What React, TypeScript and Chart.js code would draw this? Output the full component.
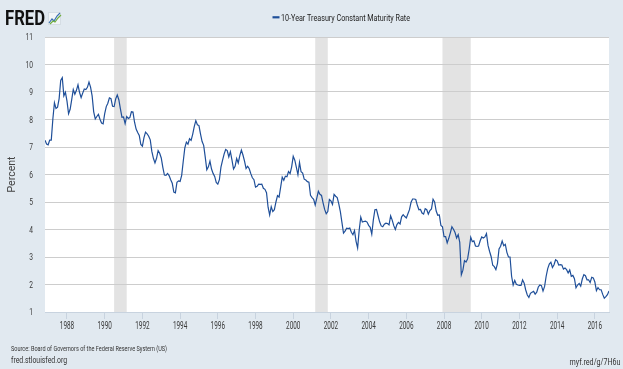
import React, { useEffect, useRef } from "react";
import { Chart, registerables } from "chart.js";

Chart.register(...registerables);

// ---------------- DATA ----------------
const seriesLabel = "10-Year Treasury Constant Maturity Rate";
const firstMonth = "1986-11"; // first monthly observation
// Monthly 10-year treasury rate (percent), Nov 1986 .. Oct 2016
const monthlyRates: number[] = [
  7.25, 7.11, // 1986
  7.08, 7.25, 7.25, 8.02, 8.61, 8.40, 8.45, 8.76, 9.42, 9.52, 8.86, 8.99, // 1987
  8.67, 8.21, 8.37, 8.72, 9.09, 8.92, 9.06, 9.26, 8.98, 8.80, 8.96, 9.11, // 1988
  9.09, 9.17, 9.36, 9.18, 8.86, 8.28, 8.02, 8.11, 8.19, 8.01, 7.87, 7.84, // 1989
  8.21, 8.47, 8.59, 8.79, 8.76, 8.48, 8.47, 8.75, 8.89, 8.72, 8.39, 8.08, // 1990
  8.09, 7.85, 8.11, 8.04, 8.07, 8.28, 8.27, 7.90, 7.65, 7.53, 7.42, 7.09, // 1991
  7.03, 7.34, 7.54, 7.48, 7.39, 7.26, 6.84, 6.59, 6.42, 6.59, 6.87, 6.77, // 1992
  6.60, 6.26, 5.98, 5.97, 6.04, 5.96, 5.81, 5.68, 5.36, 5.33, 5.72, 5.77, // 1993
  5.75, 5.97, 6.48, 6.97, 7.18, 7.10, 7.30, 7.24, 7.46, 7.74, 7.96, 7.81, // 1994
  7.78, 7.47, 7.20, 7.06, 6.63, 6.17, 6.28, 6.49, 6.20, 6.04, 5.93, 5.71, // 1995
  5.65, 5.81, 6.27, 6.51, 6.74, 6.91, 6.87, 6.64, 6.83, 6.53, 6.20, 6.30, // 1996
  6.58, 6.42, 6.69, 6.89, 6.71, 6.49, 6.22, 6.30, 6.21, 6.03, 5.88, 5.81, // 1997
  5.54, 5.57, 5.65, 5.64, 5.65, 5.50, 5.46, 5.34, 4.81, 4.53, 4.83, 4.65, // 1998
  4.72, 5.00, 5.23, 5.18, 5.54, 5.90, 5.79, 5.94, 5.92, 6.11, 6.03, 6.28, // 1999
  6.66, 6.52, 6.26, 5.99, 6.44, 6.10, 6.05, 5.83, 5.80, 5.74, 5.72, 5.24, // 2000
  5.16, 5.10, 4.89, 5.14, 5.39, 5.28, 5.24, 4.97, 4.73, 4.57, 4.65, 5.09, // 2001
  5.04, 4.91, 5.28, 5.21, 5.16, 4.93, 4.65, 4.26, 3.87, 3.94, 4.05, 4.03, // 2002
  4.05, 3.90, 3.81, 3.96, 3.57, 3.33, 3.98, 4.45, 4.27, 4.29, 4.30, 4.27, // 2003
  4.15, 4.08, 3.83, 4.35, 4.72, 4.73, 4.50, 4.28, 4.13, 4.10, 4.19, 4.23, // 2004
  4.22, 4.17, 4.50, 4.34, 4.14, 4.00, 4.18, 4.26, 4.20, 4.46, 4.54, 4.47, // 2005
  4.42, 4.57, 4.72, 4.99, 5.11, 5.11, 5.09, 4.88, 4.72, 4.73, 4.60, 4.56, // 2006
  4.76, 4.72, 4.56, 4.69, 4.75, 5.10, 5.00, 4.67, 4.52, 4.53, 4.15, 4.10, // 2007
  3.74, 3.74, 3.51, 3.68, 3.88, 4.10, 4.01, 3.89, 3.69, 3.81, 3.53, 2.35, // 2008
  2.52, 2.87, 2.82, 2.93, 3.29, 3.72, 3.56, 3.59, 3.40, 3.39, 3.40, 3.59, // 2009
  3.73, 3.69, 3.73, 3.85, 3.42, 3.20, 3.01, 2.70, 2.65, 2.54, 2.76, 3.29, // 2010
  3.39, 3.58, 3.41, 3.46, 3.17, 3.00, 3.00, 2.30, 1.98, 2.15, 2.01, 1.98, // 2011
  1.97, 1.97, 2.17, 2.05, 1.80, 1.62, 1.53, 1.68, 1.72, 1.75, 1.65, 1.72, // 2012
  1.91, 1.98, 1.96, 1.76, 1.93, 2.30, 2.58, 2.74, 2.81, 2.62, 2.72, 2.90, // 2013
  2.86, 2.71, 2.72, 2.71, 2.56, 2.60, 2.54, 2.42, 2.53, 2.30, 2.33, 2.21, // 2014
  1.88, 1.98, 2.04, 1.94, 2.20, 2.36, 2.32, 2.17, 2.17, 2.07, 2.26, 2.24, // 2015
  2.09, 1.78, 1.89, 1.81, 1.81, 1.64, 1.50, 1.56, 1.63, 1.76, // 2016
];
// Recession shading (first and last month)
const recessionStarts = ["1990-07", "2001-03", "2007-12"];
const recessionEnds = ["1991-03", "2001-11", "2009-06"];
// Axis ticks
const xTickYears = [1988, 1990, 1992, 1994, 1996, 1998, 2000, 2002, 2004, 2006, 2008, 2010, 2012, 2014, 2016];
const yTickValues = [1, 2, 3, 4, 5, 6, 7, 8, 9, 10, 11];
const yAxisTitle = "Percent";
const sourceText = "Source: Board of Governors of the Federal Reserve System (US)";
const siteText = "fred.stlouisfed.org";
const shortLink = "myf.red/g/7H6u";
const logoText = "FRED";

// ---------------- HELPERS ----------------
const toDecimal = (ym: string) => {
  const [y, m] = ym.split("-").map(Number);
  return y + (m - 1) / 12;
};
const x0 = toDecimal(firstMonth);
const points = monthlyRates.map((v, i) => ({ x: x0 + i / 12, y: v }));
const xMin = x0;
const xMax = x0 + (monthlyRates.length - 1) / 12;

const LINE_COLOR = "#1f4f99";
const BG = "#e1e9f0";
const FONT = "Roboto, 'Liberation Sans', sans-serif";

type TextOpts = {
  size: number;
  weight?: string;
  color: string;
  align: CanvasTextAlign;
  width?: number;
  squeeze?: number;
  rotate?: number;
};

function drawText(ctx: CanvasRenderingContext2D, text: string, x: number, y: number, o: TextOpts) {
  ctx.save();
  ctx.font = `${o.weight || "normal"} ${o.size}px ${FONT}`;
  const w = ctx.measureText(text).width;
  const sx = o.width ? o.width / w : o.squeeze || 1;
  ctx.translate(x, y);
  if (o.rotate) ctx.rotate(o.rotate);
  ctx.scale(sx, 1);
  ctx.textAlign = o.align;
  ctx.textBaseline = "alphabetic";
  ctx.fillStyle = o.color;
  ctx.fillText(text, 0, 0);
  ctx.restore();
}

const backgroundPlugin = {
  id: "fredBackground",
  beforeDraw(chart: any) {
    const { ctx, chartArea, scales } = chart;
    ctx.save();
    ctx.fillStyle = BG;
    ctx.fillRect(0, 0, chart.width, chart.height);
    ctx.fillStyle = "#ffffff";
    ctx.fillRect(chartArea.left, chartArea.top, chartArea.right - chartArea.left, chartArea.bottom - chartArea.top);
    ctx.fillStyle = "#e3e3e3";
    recessionStarts.forEach((s, i) => {
      const a = scales.x.getPixelForValue(toDecimal(s));
      const b = scales.x.getPixelForValue(toDecimal(recessionEnds[i]));
      ctx.fillRect(a, chartArea.top, b - a, chartArea.bottom - chartArea.top);
    });
    ctx.restore();
  },
};

const textPlugin = {
  id: "fredText",
  afterDraw(chart: any) {
    const { ctx, scales, chartArea } = chart;
    // y tick labels
    scales.y.ticks.forEach((t: any) => {
      const py = scales.y.getPixelForValue(t.value);
      drawText(ctx, String(t.value), 33, py + 3.4, { size: 9.5, color: "#3a3a3a", align: "right", squeeze: 0.7 });
    });
    // x tick labels
    scales.x.ticks.forEach((t: any) => {
      const px = scales.x.getPixelForValue(t.value);
      drawText(ctx, String(t.value), px, 329, { size: 10, color: "#3a3a3a", align: "center", squeeze: 0.64 });
    });
    // y axis title
    drawText(ctx, yAxisTitle, 15, (chartArea.top + chartArea.bottom) / 2, {
      size: 10, color: "#444", align: "center", width: 36, rotate: -Math.PI / 2,
    });
    // legend
    ctx.save();
    ctx.strokeStyle = LINE_COLOR;
    ctx.lineWidth = 2.2;
    ctx.beginPath();
    ctx.moveTo(272.5, 17.3);
    ctx.lineTo(279.5, 17.3);
    ctx.stroke();
    ctx.restore();
    drawText(ctx, seriesLabel, 281, 20.6, { size: 9.5, color: "#222", align: "left", width: 129 });
    // logo
    drawText(ctx, logoText, 5, 24.7, { size: 20, weight: "bold", color: "#111", align: "left", width: 40 });
    ctx.save();
    ctx.fillStyle = "#f2f5f7";
    ctx.fillRect(48, 12, 13, 13);
    ctx.strokeStyle = "#d5dde4";
    ctx.lineWidth = 1;
    ctx.strokeRect(48.5, 12.5, 12, 12);
    ctx.lineWidth = 1.2;
    ctx.strokeStyle = "#3a6fb3";
    ctx.beginPath();
    ctx.moveTo(49, 23); ctx.lineTo(52, 19); ctx.lineTo(54, 21); ctx.lineTo(57, 16); ctx.lineTo(60, 13);
    ctx.stroke();
    ctx.strokeStyle = "#6fae3f";
    ctx.beginPath();
    ctx.moveTo(50, 24); ctx.lineTo(53, 21); ctx.lineTo(55, 22); ctx.lineTo(58, 18); ctx.lineTo(61, 15);
    ctx.stroke();
    ctx.restore();
    // footer
    drawText(ctx, sourceText, 11, 350.6, { size: 7.5, color: "#333", align: "left", width: 156 });
    drawText(ctx, siteText, 11, 363.3, { size: 9.5, color: "#333", align: "left", width: 56 });
    drawText(ctx, shortLink, 620.5, 364.5, { size: 9.5, color: "#333", align: "right", width: 51 });
  },
};

export default function App() {
  const canvasRef = useRef<HTMLCanvasElement | null>(null);

  useEffect(() => {
    document.body.style.margin = "0";
    const canvas = canvasRef.current;
    if (!canvas) return;
    const chart = new Chart(canvas, {
      type: "line",
      data: {
        datasets: [
          {
            label: seriesLabel,
            data: points,
            borderColor: LINE_COLOR,
            borderWidth: 1.2,
            pointRadius: 0,
            fill: false,
            tension: 0,
          },
        ],
      },
      options: {
        animation: false,
        responsive: false,
        devicePixelRatio: 1,
        parsing: false as any,
        layout: { padding: { left: 45, right: 14, top: 37, bottom: 50 } },
        plugins: { legend: { display: false }, tooltip: { enabled: false }, title: { display: false } },
        scales: {
          x: {
            type: "linear",
            min: xMin,
            max: xMax,
            afterBuildTicks: (axis: any) => {
              axis.ticks = xTickYears.map((v) => ({ value: v }));
            },
            ticks: { display: false },
            grid: { drawOnChartArea: false, drawTicks: true, tickLength: 7, color: "#c8d3df" },
            border: { display: true, color: "#c8d3df" },
          },
          y: {
            type: "linear",
            min: 1,
            max: 11,
            afterBuildTicks: (axis: any) => {
              axis.ticks = yTickValues.map((v) => ({ value: v }));
            },
            ticks: { display: false },
            grid: { color: "#cdcdcd", drawTicks: false },
            border: { display: false },
          },
        },
      },
      plugins: [backgroundPlugin, textPlugin],
    });
    return () => chart.destroy();
  }, []);

  return (
    <div style={{ width: 623, height: 369 }}>
      <canvas ref={canvasRef} width={623} height={369} style={{ display: "block" }} />
    </div>
  );
}
